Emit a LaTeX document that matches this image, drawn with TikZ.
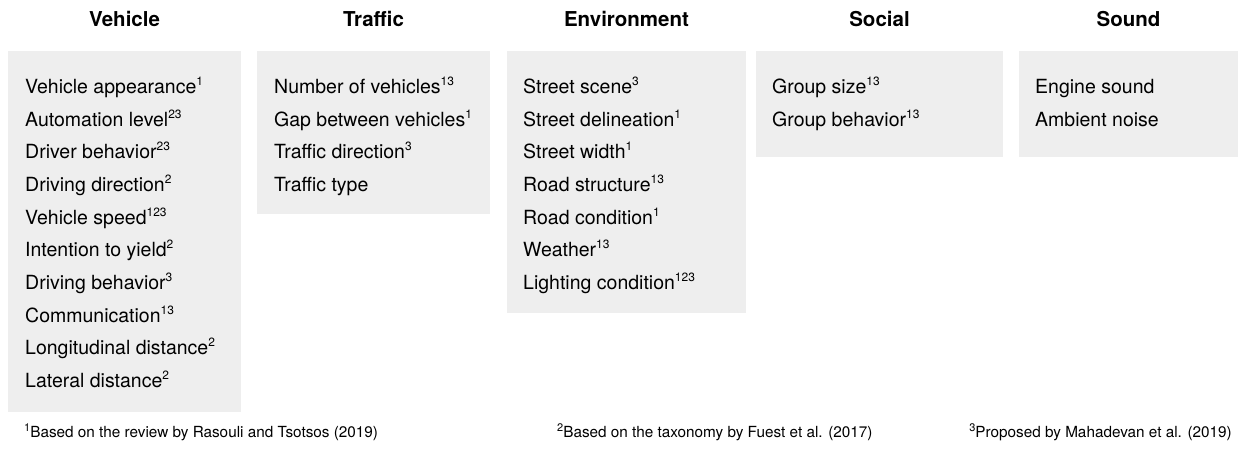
\documentclass[tikz,border=0pt]{standalone}
\usepackage{fontspec}
\setmainfont{TeX Gyre Heros}
\definecolor{boxgray}{RGB}{238,238,238}
\newcommand\sups[1]{\raisebox{8pt}{\fontsize{12}{12}\selectfont #1}}
\newcommand\fsups[1]{\raisebox{6.5pt}{\fontsize{11}{11}\selectfont #1}}
\tikzset{
  box/.style={fill=boxgray, draw=none, inner sep=0pt, anchor=north west},
  item/.style={anchor=base west, inner sep=0pt, font=\fontsize{19.5}{23}\selectfont},
  head/.style={anchor=base, inner sep=0pt, font=\fontsize{20.5}{24}\selectfont\bfseries},
  fnote/.style={inner sep=0pt, font=\fontsize{15.3}{18}\selectfont}
}
\begin{document}
\begin{tikzpicture}[x=1pt,y=1pt]
\useasboundingbox (0,0) rectangle (1238,-452);
% boxes
\node[box, minimum width=233pt, minimum height=361pt] (vehbox) at (8,-51) {};
\node[box, minimum width=233pt, minimum height=163pt] (trabox) at (257,-51) {};
\node[box, minimum width=239pt, minimum height=262pt] (envbox) at (507,-51) {};
\node[box, minimum width=247pt, minimum height=106pt] (socbox) at (756,-51) {};
\node[box, minimum width=219pt, minimum height=106pt] (soubox) at (1019,-51) {};
% headings
\node[head] (vehhead) at (124.5,-27) {Vehicle};
\node[head] (trahead) at (373.5,-27) {Traffic};
\node[head] (envhead) at (626.5,-27) {Environment};
\node[head] (sochead) at (879.5,-27) {Social};
\node[head] (souhead) at (1128.5,-27) {Sound};
% items
\foreach \t [count=\i] in {Vehicle appearance\sups{1}, Automation level\sups{23}, Driver behavior\sups{23}, Driving direction\sups{2}, Vehicle speed\sups{123}, Intention to yield\sups{2}, Driving behavior\sups{3}, Communication\sups{13}, Longitudinal distance\sups{2}, Lateral distance\sups{2}}
  \node[item] (veh\i) at (25,{-93.3-(\i-1)*32.7}) {\t};
\foreach \t [count=\i] in {Number of vehicles\sups{13}, Gap between vehicles\sups{1}, Traffic direction\sups{3}, Traffic type}
  \node[item] (tra\i) at (274,{-93.3-(\i-1)*32.7}) {\t};
\foreach \t [count=\i] in {Street scene\sups{3}, Street delineation\sups{1}, Street width\sups{1}, Road structure\sups{13}, Road condition\sups{1}, Weather\sups{13}, Lighting condition\sups{123}}
  \node[item] (env\i) at (523,{-93.3-(\i-1)*32.7}) {\t};
\foreach \t [count=\i] in {Group size\sups{13}, Group behavior\sups{13}}
  \node[item] (soc\i) at (772,{-93.3-(\i-1)*32.7}) {\t};
\foreach \t [count=\i] in {Engine sound, Ambient noise}
  \node[item] (sou\i) at (1035,{-93.3-(\i-1)*32.7}) {\t};
% footnotes
\node[fnote, anchor=base west] (fn1) at (24,-437.7) {\fsups{1}Based on the review by Rasouli and Tsotsos (2019)};
\node[fnote, anchor=base west] (fn2) at (557,-437.7) {\fsups{2}Based on the taxonomy by Fuest et al. (2017)};
\node[fnote, anchor=base east] (fn3) at (1232,-437.7) {\fsups{3}Proposed by Mahadevan et al. (2019)};
\end{tikzpicture}
\end{document}
